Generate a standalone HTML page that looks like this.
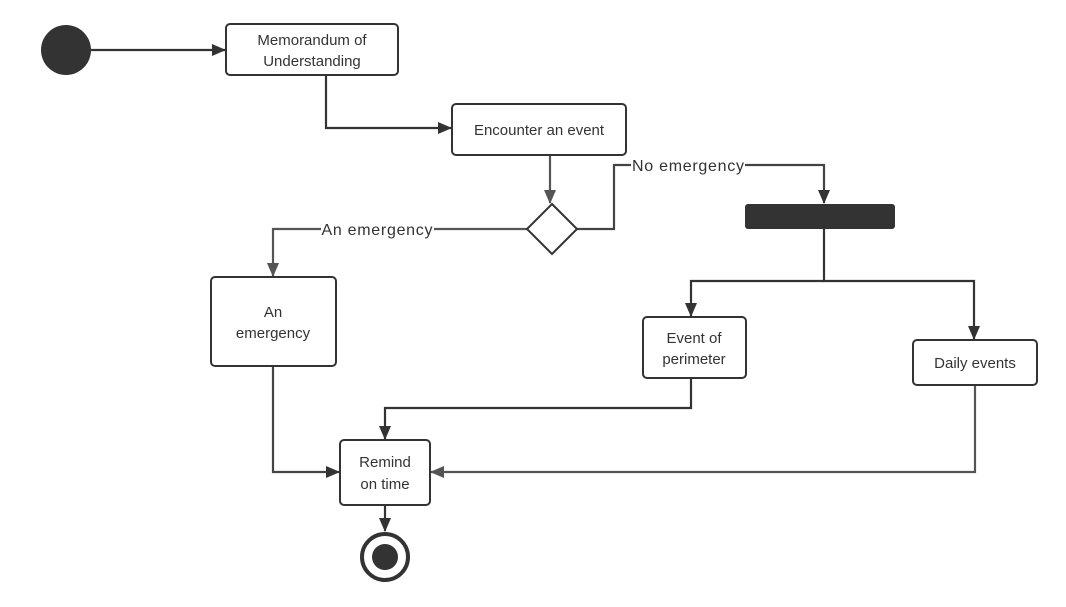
<!DOCTYPE html>
<html><head><style>
html,body{margin:0;padding:0;background:#fff;}
svg{display:block;}
text{font-family:"Liberation Sans",sans-serif;font-size:15px;fill:#333;}
</style></head><body>
<svg width="1066" height="607" viewBox="0 0 1066 607" xmlns="http://www.w3.org/2000/svg">
<defs>
<marker id="a" markerWidth="14" markerHeight="14" refX="13" refY="6" orient="auto" markerUnits="userSpaceOnUse">
<path d="M0,0 L14,6 L0,12 z" fill="#333"/>
</marker>
<marker id="g" markerWidth="14" markerHeight="14" refX="13" refY="6" orient="auto" markerUnits="userSpaceOnUse">
<path d="M0,0 L14,6 L0,12 z" fill="#555"/>
</marker>
</defs>
<g fill="none" stroke-width="2.2">
<path d="M91,50 H225" stroke="#333" marker-end="url(#a)"/>
<path d="M326,75 V128 H451" stroke="#333" marker-end="url(#a)"/>
<path d="M550,155 V203" stroke="#555" marker-end="url(#g)"/>
<path d="M577,229 H614 V165 H824 V203" stroke="#444" marker-end="url(#a)"/>
<path d="M527,229 H273 V276" stroke="#555" marker-end="url(#g)"/>
<path d="M824,229 V281 H974 V339" stroke="#333" marker-end="url(#a)"/>
<path d="M824,281 H691 V316" stroke="#333" marker-end="url(#a)"/>
<path d="M691,378 V408 H385 V439" stroke="#333" marker-end="url(#a)"/>
<path d="M273,366 V472 H339" stroke="#444" marker-end="url(#a)"/>
<path d="M975,385 V472 H431" stroke="#555" marker-end="url(#g)"/>
<path d="M385,505 V531" stroke="#333" marker-end="url(#a)"/>
</g>
<rect x="321" y="220" width="113" height="18" fill="#fff"/>
<rect x="631" y="156" width="114" height="18" fill="#fff"/>
<text x="377" y="235" text-anchor="middle" textLength="111" style="font-size:16px">An emergency</text>
<text x="688" y="171" text-anchor="middle" textLength="112" style="font-size:16px">No emergency</text>
<circle cx="66" cy="50" r="25" fill="#333"/>
<g fill="#fff" stroke="#333" stroke-width="2">
<rect x="226" y="24" width="172" height="51" rx="4"/>
<rect x="452" y="104" width="174" height="51" rx="4"/>
<path d="M552,204 L577,229 L552,254 L527,229 z"/>
<rect x="211" y="277" width="125" height="89" rx="4"/>
<rect x="643" y="317" width="103" height="61" rx="4"/>
<rect x="913" y="340" width="124" height="45" rx="4"/>
<rect x="340" y="440" width="90" height="65" rx="4"/>
</g>
<rect x="745" y="204" width="150" height="25" rx="3" fill="#333"/>
<circle cx="385" cy="557" r="23" fill="#fff" stroke="#333" stroke-width="4"/>
<circle cx="385" cy="557" r="13" fill="#333"/>
<g text-anchor="middle">
<text x="312" y="45">Memorandum of</text>
<text x="312" y="66">Understanding</text>
<text x="539" y="135">Encounter an event</text>
<text x="273" y="317">An</text>
<text x="273" y="338">emergency</text>
<text x="694" y="343">Event of</text>
<text x="694" y="364">perimeter</text>
<text x="975" y="368">Daily events</text>
<text x="385" y="467">Remind</text>
<text x="385" y="489">on time</text>
</g>
</svg>
</body></html>
